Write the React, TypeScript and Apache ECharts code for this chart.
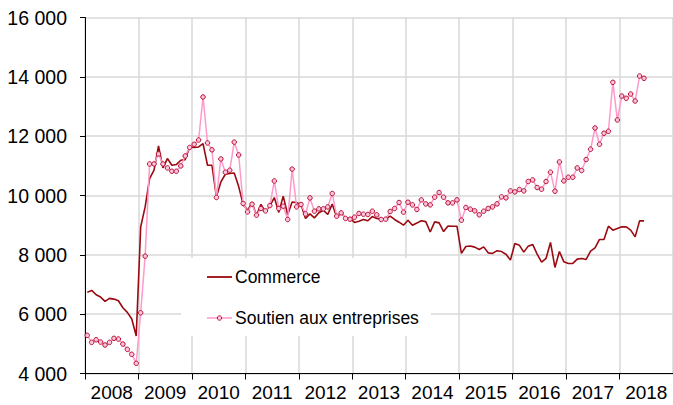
import React, { useEffect, useRef } from "react";
import * as echarts from "echarts";

const years = ["2008", "2009", "2010", "2011", "2012", "2013", "2014", "2015", "2016", "2017", "2018"];
const months: string[] = [];
years.forEach((y) => {
  for (let m = 1; m <= 12; m++) months.push(`${y}-${m < 10 ? "0" + m : m}`);
});

const commerce = [
  6734, 6801, 6653, 6576, 6431, 6532, 6508, 6451, 6215, 6061, 5835, 5263,
  8943, 9616, 10572, 10852, 11670, 10929, 11245, 11020, 11043, 11189, 11210, 11636,
  11616, 11636, 11751, 11020, 11020, 9953, 10458, 10717, 10740, 10761, 10300, 9700,
  9500, 9760, 9330, 9700, 9450, 9650, 9930, 9430, 9980, 9350, 9780, 9760,
  9700, 9226, 9380, 9246, 9420, 9505, 9360, 9710, 9270, 9420, 9230, 9226,
  9091, 9135, 9192, 9150, 9290, 9226, 9202, 9202, 9303, 9192, 9100, 9000,
  9168, 9000, 9070, 9150, 9120, 8770, 9111, 9078, 8785, 8970, 8966, 8966,
  8047, 8280, 8300, 8260, 8182, 8269, 8067, 8047, 8140, 8110, 8020, 7822,
  8384, 8327, 8091, 8293, 8350, 8024, 7754, 7879, 8418, 7576, 8114, 7764,
  7710, 7710, 7855, 7879, 7845, 8124, 8236, 8518, 8518, 8966, 8832, 8889,
  8943, 8943, 8832, 8606, 9145, 9145,
];

const soutien = [
  5286, 5050, 5138, 5061, 4960, 5050, 5185, 5162, 4993, 4814, 4646, 4343,
  6047, 7956, 11064, 11064, 11400, 11064, 10929, 10818, 10818, 10997, 11333, 11620,
  11727, 11870, 13320, 11771, 11540, 9933, 11232, 10785, 10852, 11800, 11367, 9730,
  9448, 9707, 9337, 9562, 9481, 9660, 10490, 9562, 9640, 9192, 10890, 9616,
  9697, 9380, 9919, 9471, 9549, 9549, 9616, 10067, 9303, 9414, 9226, 9202,
  9269, 9394, 9370, 9360, 9471, 9347, 9192, 9202, 9461, 9562, 9764, 9438,
  9774, 9684, 9529, 9852, 9717, 9684, 9943, 10101, 9943, 9751, 9751, 9852,
  9168, 9596, 9539, 9483, 9349, 9471, 9562, 9617, 9718, 9953, 9920, 10155,
  10122, 10202, 10155, 10471, 10525, 10269, 10212, 10471, 10785, 10145, 11131, 10492,
  10616, 10616, 10929, 10842, 11212, 11559, 12276, 11727, 12098, 12165, 13815, 12546,
  13353, 13276, 13421, 13185, 14027, 13950,
];

const seriesNames = ["Commerce", "Soutien aux entreprises"];

const COMMERCE_COLOR = "#9a0a10";
const SOUTIEN_LINE = "#ff99cc";
const SOUTIEN_FILL = "#ffc4e1";
const SOUTIEN_BORDER = "#b5102e";

const fmt = (v: number) => String(v).replace(/\B(?=(\d{3})+(?!\d))/g, " ");

export default function App() {
  const ref = useRef<HTMLDivElement>(null);
  useEffect(() => {
    if (!ref.current) return;
    const chart = echarts.init(ref.current, undefined, { renderer: "svg" });
    const font = "'Liberation Sans', Arial, sans-serif";
    chart.setOption({
      animation: false,
      backgroundColor: "#ffffff",
      textStyle: { fontFamily: font },
      grid: { left: 85, right: 0, top: 17.5, bottom: 31.5, containLabel: false },
      graphic: [
        {
          type: "rect",
          shape: { x: 181, y: 258, width: 250, height: 78 },
          style: { fill: "#ffffff" },
          z: 50,
        },
        {
          type: "line",
          shape: { x1: 207, y1: 277, x2: 232, y2: 277 },
          style: { stroke: COMMERCE_COLOR, lineWidth: 1.8 },
          z: 51,
        },
        {
          type: "text",
          x: 235,
          y: 277,
          style: { text: seriesNames[0], fontSize: 17.5, fill: "#000", fontFamily: font, verticalAlign: "middle", align: "left" },
          z: 51,
        },
        {
          type: "line",
          shape: { x1: 207, y1: 318, x2: 232, y2: 318 },
          style: { stroke: SOUTIEN_LINE, lineWidth: 1.5 },
          z: 51,
        },
        {
          type: "circle",
          shape: { cx: 219.5, cy: 318, r: 2.2 },
          style: { fill: SOUTIEN_FILL, stroke: SOUTIEN_BORDER, lineWidth: 1 },
          z: 52,
        },
        {
          type: "text",
          x: 235,
          y: 318,
          style: { text: seriesNames[1], fontSize: 17.5, fill: "#000", fontFamily: font, verticalAlign: "middle", align: "left" },
          z: 51,
        },
      ],
      xAxis: [
        {
          type: "category",
          data: months,
          boundaryGap: true,
          show: false,
        },
        {
          type: "category",
          data: years,
          position: "bottom",
          boundaryGap: true,
          axisLine: { show: true, lineStyle: { color: "#000", width: 1 } },
          axisTick: { show: true, length: 6, interval: 0, lineStyle: { color: "#000" } },
          axisLabel: { fontSize: 19, color: "#000", margin: 9, interval: 0, fontFamily: font },
          splitLine: { show: true, interval: 0, lineStyle: { color: "#d9d9d9", width: 1.5 } },
        },
      ],
      yAxis: {
        type: "value",
        min: 4000,
        max: 16000,
        interval: 2000,
        axisLine: { show: true, lineStyle: { color: "#000", width: 1 } },
        axisTick: { show: true, length: 5, lineStyle: { color: "#000" } },
        axisLabel: { fontSize: 19.5, color: "#000", margin: 18, formatter: fmt, fontFamily: font },
        splitLine: { show: true, lineStyle: { color: "#d9d9d9", width: 1.5 } },
      },
      series: [
        {
          name: seriesNames[0],
          type: "line",
          xAxisIndex: 0,
          data: commerce,
          symbol: "none",
          showSymbol: false,
          lineStyle: { color: COMMERCE_COLOR, width: 1.6 },
          itemStyle: { color: COMMERCE_COLOR },
          z: 2,
        },
        {
          name: seriesNames[1],
          type: "line",
          xAxisIndex: 0,
          data: soutien,
          symbol: "circle",
          symbolSize: 4.5,
          showSymbol: true,
          showAllSymbol: true,
          lineStyle: { color: SOUTIEN_LINE, width: 1.5 },
          itemStyle: { color: SOUTIEN_FILL, borderColor: SOUTIEN_BORDER, borderWidth: 1 },
          z: 3,
        },
      ],
    });
    return () => chart.dispose();
  }, []);
  return (
    <div
      ref={ref}
      style={{ position: "fixed", left: 0, top: 0, width: 673, height: 405 }}
    />
  );
}
